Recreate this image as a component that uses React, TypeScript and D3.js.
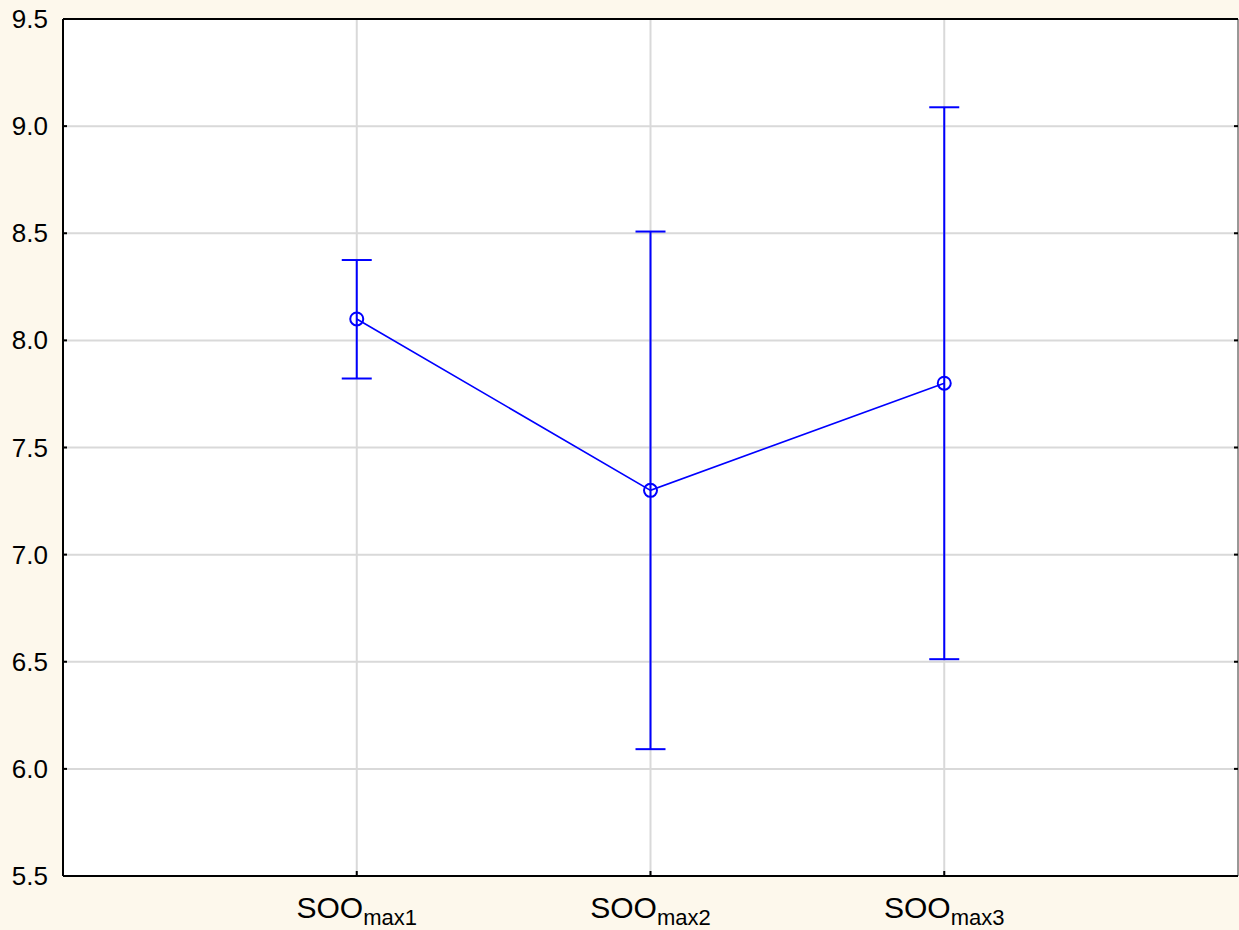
import React from "react";
import * as d3 from "d3";

const categories = ["max1", "max2", "max3"];
const means = [8.1, 7.3, 7.8];
const upper = [8.375, 8.508, 9.088];
const lower = [7.822, 6.092, 6.512];
const yTicks = [5.5, 6.0, 6.5, 7.0, 7.5, 8.0, 8.5, 9.0, 9.5];

const W = 1239;
const H = 930;
const left = 63;
const right = 1238;
const top = 19;
const bottom = 876;

export default function App() {
  const x = d3.scaleLinear().domain([0, 4]).range([left, right]);
  const y = d3.scaleLinear().domain([5.5, 9.5]).range([bottom, top]);
  const line = d3
    .line<number>()
    .x((_, i) => x(i + 1))
    .y((d) => y(d));
  const blue = "#0000ff";
  const font = "Arial, 'Liberation Sans', sans-serif";
  return (
    <svg
      width={W}
      height={H}
      style={{ position: "absolute", left: 0, top: 0, display: "block" }}
    >
      <rect x={0} y={0} width={W} height={H} fill="#fdf8ec" />
      <rect x={left} y={top} width={right - left} height={bottom - top} fill="#ffffff" />
      {yTicks.slice(1, -1).map((t) => (
        <line key={"g" + t} x1={left} x2={right} y1={y(t)} y2={y(t)} stroke="#d9d9d9" strokeWidth={2} />
      ))}
      {categories.map((c, i) => (
        <line key={"v" + c} x1={x(i + 1)} x2={x(i + 1)} y1={top} y2={bottom} stroke="#d9d9d9" strokeWidth={2} />
      ))}
      <line x1={left} x2={right} y1={top} y2={top} stroke="#000" strokeWidth={2} />
      <line x1={left} x2={right} y1={bottom} y2={bottom} stroke="#000" strokeWidth={2} />
      <line x1={left} x2={left} y1={top} y2={bottom} stroke="#000" strokeWidth={2} />
      <line x1={right} x2={right} y1={top} y2={bottom} stroke="#777" strokeWidth={1.5} />
      {yTicks.map((t) => (
        <g key={"t" + t}>
          <line x1={left} x2={left + 4} y1={y(t)} y2={y(t)} stroke="#000" strokeWidth={2} />
          <line x1={right - 4} x2={right} y1={y(t)} y2={y(t)} stroke="#000" strokeWidth={2} />
          <text
            x={48}
            y={y(t)}
            textAnchor="end"
            dominantBaseline="central"
            fontFamily={font}
            fontSize={26}
            fill="#000"
          >
            {t.toFixed(1)}
          </text>
        </g>
      ))}
      {categories.map((c, i) => (
        <g key={"c" + c}>
          <line x1={x(i + 1)} x2={x(i + 1)} y1={bottom - 5} y2={bottom} stroke="#000" strokeWidth={2} />
          <text x={x(i + 1)} y={918} textAnchor="middle" fontFamily={font} fill="#000">
            <tspan fontSize={30}>SOO</tspan>
            <tspan fontSize={22} dy={7}>{c}</tspan>
          </text>
        </g>
      ))}
      {means.map((m, i) => (
        <g key={"e" + i} stroke={blue} strokeWidth={2}>
          <line x1={x(i + 1)} x2={x(i + 1)} y1={y(upper[i])} y2={y(lower[i])} />
          <line x1={x(i + 1) - 15} x2={x(i + 1) + 15} y1={y(upper[i])} y2={y(upper[i])} />
          <line x1={x(i + 1) - 15} x2={x(i + 1) + 15} y1={y(lower[i])} y2={y(lower[i])} />
        </g>
      ))}
      <path d={line(means) || ""} fill="none" stroke={blue} strokeWidth={1.6} />
      {means.map((m, i) => (
        <circle key={"p" + i} cx={x(i + 1)} cy={y(m)} r={6.5} fill="none" stroke={blue} strokeWidth={2} />
      ))}
    </svg>
  );
}
